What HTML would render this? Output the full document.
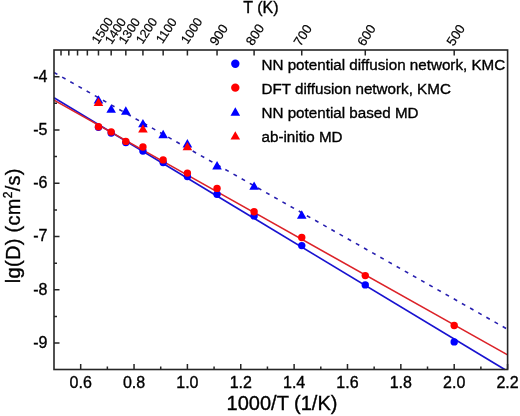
<!DOCTYPE html>
<html><head><meta charset="utf-8"><style>
html,body{margin:0;padding:0;background:#fff;width:520px;height:416px;overflow:hidden}
svg{display:block;will-change:transform}
text{font-family:"Liberation Sans",sans-serif;fill:#000;stroke:#000;stroke-width:0.35px}
.tl{stroke-width:0.2px}
</style></head><body>
<svg width="520" height="416" viewBox="0 0 520 416">
<rect width="520" height="416" fill="#fff"/>
<g>
<line x1="54.0" y1="97.7" x2="504.75" y2="369.5" stroke="#1812d0" stroke-width="1.6"/>
<line x1="54.0" y1="100.1" x2="507.6" y2="354.89" stroke="#dc2228" stroke-width="1.6"/>
<line x1="54.0" y1="72.5" x2="507.6" y2="329.3" stroke="#2820b0" stroke-width="1.6" stroke-dasharray="3.9 5.475"/>
<circle cx="98.47" cy="127.20" r="3.7" fill="#0000ff"/>
<circle cx="111.17" cy="133.00" r="3.7" fill="#0000ff"/>
<circle cx="125.83" cy="142.60" r="3.7" fill="#0000ff"/>
<circle cx="142.93" cy="151.00" r="3.7" fill="#0000ff"/>
<circle cx="163.15" cy="162.60" r="3.7" fill="#0000ff"/>
<circle cx="187.40" cy="176.50" r="3.7" fill="#0000ff"/>
<circle cx="217.04" cy="194.20" r="3.7" fill="#0000ff"/>
<circle cx="254.10" cy="215.90" r="3.7" fill="#0000ff"/>
<circle cx="301.74" cy="245.60" r="3.7" fill="#0000ff"/>
<circle cx="365.27" cy="284.90" r="3.7" fill="#0000ff"/>
<circle cx="454.20" cy="341.90" r="3.7" fill="#0000ff"/>
<circle cx="98.47" cy="126.80" r="3.7" fill="#ff0000"/>
<circle cx="111.17" cy="131.90" r="3.7" fill="#ff0000"/>
<circle cx="125.83" cy="141.40" r="3.7" fill="#ff0000"/>
<circle cx="142.93" cy="147.00" r="3.7" fill="#ff0000"/>
<circle cx="163.15" cy="159.90" r="3.7" fill="#ff0000"/>
<circle cx="187.40" cy="173.10" r="3.7" fill="#ff0000"/>
<circle cx="217.04" cy="188.40" r="3.7" fill="#ff0000"/>
<circle cx="254.10" cy="211.80" r="3.7" fill="#ff0000"/>
<circle cx="301.74" cy="237.50" r="3.7" fill="#ff0000"/>
<circle cx="365.27" cy="275.60" r="3.7" fill="#ff0000"/>
<circle cx="454.20" cy="325.50" r="3.7" fill="#ff0000"/>
<path d="M98.47 95.20L103.27 103.60L93.67 103.60Z" fill="#0000ff"/>
<path d="M111.17 104.40L115.97 112.80L106.37 112.80Z" fill="#0000ff"/>
<path d="M125.83 106.30L130.63 114.70L121.03 114.70Z" fill="#0000ff"/>
<path d="M142.93 118.90L147.73 127.30L138.13 127.30Z" fill="#0000ff"/>
<path d="M163.15 129.80L167.95 138.20L158.35 138.20Z" fill="#0000ff"/>
<path d="M187.40 139.10L192.20 147.50L182.60 147.50Z" fill="#0000ff"/>
<path d="M217.04 161.00L221.84 169.40L212.24 169.40Z" fill="#0000ff"/>
<path d="M254.10 181.40L258.90 189.80L249.30 189.80Z" fill="#0000ff"/>
<path d="M301.74 210.30L306.54 218.70L296.94 218.70Z" fill="#0000ff"/>
<path d="M98.47 97.50L103.27 105.90L93.67 105.90Z" fill="#ff0000"/>
<path d="M142.93 124.20L147.73 132.60L138.13 132.60Z" fill="#ff0000"/>
<path d="M187.40 141.90L192.20 150.30L182.60 150.30Z" fill="#ff0000"/>
</g>
<path d="M80.68 369.5V364.0M134.04 369.5V364.0M187.40 369.5V364.0M240.76 369.5V364.0M294.12 369.5V364.0M347.48 369.5V364.0M400.84 369.5V364.0M454.20 369.5V364.0M507.56 369.5V364.0M107.36 369.5V366.5M160.72 369.5V366.5M214.08 369.5V366.5M267.44 369.5V366.5M320.80 369.5V366.5M374.16 369.5V366.5M427.52 369.5V366.5M480.88 369.5V366.5M54.0 76.70H59.5M54.0 129.97H59.5M54.0 183.24H59.5M54.0 236.51H59.5M54.0 289.78H59.5M54.0 343.05H59.5M54.0 103.34H57.0M54.0 156.61H57.0M54.0 209.88H57.0M54.0 263.15H57.0M54.0 316.42H57.0M61.02 50.0V55.5M68.82 50.0V55.5M77.54 50.0V55.5M87.35 50.0V55.5M98.47 50.0V55.5M111.17 50.0V55.5M125.83 50.0V55.5M142.93 50.0V55.5M163.15 50.0V55.5M187.40 50.0V55.5M217.04 50.0V55.5M254.10 50.0V55.5M301.74 50.0V55.5M365.27 50.0V55.5M454.20 50.0V55.5" stroke="#262626" stroke-width="1.5" fill="none"/>
<rect x="54.0" y="50.0" width="453.60" height="319.5" fill="none" stroke="#262626" stroke-width="1.6"/>
<g font-size="16">
<text x="80.68" y="388" text-anchor="middle">0.6</text>
<text x="134.04" y="388" text-anchor="middle">0.8</text>
<text x="187.40" y="388" text-anchor="middle">1.0</text>
<text x="240.76" y="388" text-anchor="middle">1.2</text>
<text x="294.12" y="388" text-anchor="middle">1.4</text>
<text x="347.48" y="388" text-anchor="middle">1.6</text>
<text x="400.84" y="388" text-anchor="middle">1.8</text>
<text x="454.20" y="388" text-anchor="middle">2.0</text>
<text x="507.56" y="388" text-anchor="middle">2.2</text>
<text x="47.5" y="81.50" text-anchor="end">-4</text>
<text x="47.5" y="134.77" text-anchor="end">-5</text>
<text x="47.5" y="188.04" text-anchor="end">-6</text>
<text x="47.5" y="241.31" text-anchor="end">-7</text>
<text x="47.5" y="294.58" text-anchor="end">-8</text>
<text x="47.5" y="347.85" text-anchor="end">-9</text>
<text class="tl" transform="translate(98.35 44.70) rotate(-57)" font-size="12.6">1500</text>
<text class="tl" transform="translate(111.40 45.10) rotate(-57)" font-size="12.6">1400</text>
<text class="tl" transform="translate(125.30 45.10) rotate(-57)" font-size="12.6">1300</text>
<text class="tl" transform="translate(142.45 44.85) rotate(-57)" font-size="12.6">1200</text>
<text class="tl" transform="translate(162.55 44.35) rotate(-57)" font-size="12.6">1100</text>
<text class="tl" transform="translate(187.60 44.80) rotate(-57)" font-size="12.6">1000</text>
<text class="tl" transform="translate(216.40 46.60) rotate(-57)" font-size="13.2">900</text>
<text class="tl" transform="translate(252.80 46.40) rotate(-57)" font-size="13.2">800</text>
<text class="tl" transform="translate(300.55 46.90) rotate(-57)" font-size="13.2">700</text>
<text class="tl" transform="translate(364.25 46.90) rotate(-57)" font-size="13.2">600</text>
<text class="tl" transform="translate(453.55 46.75) rotate(-57)" font-size="13.2">500</text>
</g>
<g font-size="15.2">
<circle cx="235.30" cy="63.80" r="4.2" fill="#0000ff"/>
<text x="261.5" y="70.40">NN potential diffusion network, KMC</text>
<circle cx="235.30" cy="87.65" r="4.2" fill="#ff0000"/>
<text x="261.5" y="94.40">DFT diffusion network, KMC</text>
<path d="M235.30 107.30L240.10 115.70L230.50 115.70Z" fill="#0000ff"/>
<text x="261.5" y="118.40">NN potential based MD</text>
<path d="M235.30 131.15L240.10 139.55L230.50 139.55Z" fill="#ff0000"/>
<text x="261.5" y="142.40">ab-initio MD</text>
</g>
<text x="261" y="13.4" font-size="16" text-anchor="middle">T (K)</text>
<text x="282" y="410" font-size="20" text-anchor="middle">1000/T (1/K)</text>
<text transform="translate(20 225.7) rotate(-90)" font-size="20" text-anchor="middle" letter-spacing="0.3">lg(D) (cm<tspan font-size="12" dy="-8">2</tspan><tspan dy="8">/s)</tspan></text>
</svg>
</body></html>
